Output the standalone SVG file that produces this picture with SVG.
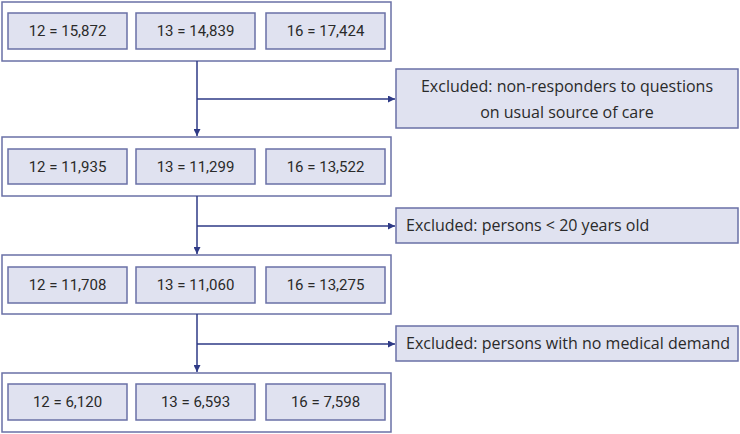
<svg xmlns="http://www.w3.org/2000/svg" width="740" height="434" viewBox="0 0 740 434">
<defs>
<style>
.outer{fill:#ffffff;stroke:#6a70a6;stroke-width:1.5}
.inner{fill:#e0e2f0;stroke:#6a70a6;stroke-width:1.5}
.t{font-family:Roboto,"Noto Sans",sans-serif;font-size:15px;fill:#2a2a2a}
.e{font-family:"Open Sans","Noto Sans",sans-serif;font-size:16px;fill:#2a2a2a}
.n{text-anchor:middle}
.c{fill:none;stroke:#2e3a86;stroke-width:1.5}
</style>
<marker id="ah" viewBox="0 0 10 10" refX="10" refY="5" markerWidth="7" markerHeight="7" markerUnits="userSpaceOnUse" orient="auto">
<path d="M0,0 L10,5 L0,10 z" fill="#2e3a86"/>
</marker>
</defs>
<rect width="740" height="434" fill="#ffffff"/>
<g id="stage1">
<rect class="outer" x="2" y="2" width="389" height="59"/>
<rect class="inner" x="8" y="13" width="119" height="36"/>
<rect class="inner" x="136" y="13" width="119" height="36"/>
<rect class="inner" x="266" y="13" width="119" height="36"/>
<text class="t n" x="67.5" y="36">12 = 15,872</text>
<text class="t n" x="195.5" y="36">13 = 14,839</text>
<text class="t n" x="325.5" y="36">16 = 17,424</text>
</g>
<g id="stage2">
<rect class="outer" x="2" y="137" width="389" height="59"/>
<rect class="inner" x="8" y="149" width="119" height="35"/>
<rect class="inner" x="136" y="149" width="119" height="35"/>
<rect class="inner" x="266" y="149" width="119" height="35"/>
<text class="t n" x="67.5" y="172">12 = 11,935</text>
<text class="t n" x="195.5" y="172">13 = 11,299</text>
<text class="t n" x="325.5" y="172">16 = 13,522</text>
</g>
<g id="stage3">
<rect class="outer" x="2" y="255" width="389" height="59"/>
<rect class="inner" x="8" y="267" width="119" height="36"/>
<rect class="inner" x="136" y="267" width="119" height="36"/>
<rect class="inner" x="266" y="267" width="119" height="36"/>
<text class="t n" x="67.5" y="290">12 = 11,708</text>
<text class="t n" x="195.5" y="290">13 = 11,060</text>
<text class="t n" x="325.5" y="290">16 = 13,275</text>
</g>
<g id="stage4">
<rect class="outer" x="2" y="373" width="389" height="59"/>
<rect class="inner" x="8" y="384" width="119" height="36"/>
<rect class="inner" x="136" y="384" width="119" height="36"/>
<rect class="inner" x="266" y="384" width="119" height="36"/>
<text class="t n" x="67.5" y="407">12 = 6,120</text>
<text class="t n" x="195.5" y="407">13 = 6,593</text>
<text class="t n" x="325.5" y="407">16 = 7,598</text>
</g>
<g id="excl1">
<rect class="inner" x="396" y="69" width="342" height="59"/>
<text class="e n" x="567" y="91.5">Excluded: non-responders to questions</text>
<text class="e n" x="567" y="117.5">on usual source of care</text>
</g>
<g id="excl2">
<rect class="inner" x="396" y="208" width="342" height="35"/>
<text class="e" x="406" y="231">Excluded: persons &lt; 20 years old</text>
</g>
<g id="excl3">
<rect class="inner" x="396" y="326" width="342" height="35"/>
<text class="e" x="406" y="349">Excluded: persons with no medical demand</text>
</g>
<g id="connectors">
<line class="c" x1="197" y1="61" x2="197" y2="136" marker-end="url(#ah)"/>
<line class="c" x1="197" y1="99" x2="395" y2="99" marker-end="url(#ah)"/>
<line class="c" x1="197" y1="196" x2="197" y2="254" marker-end="url(#ah)"/>
<line class="c" x1="197" y1="226" x2="395" y2="226" marker-end="url(#ah)"/>
<line class="c" x1="197" y1="314" x2="197" y2="372" marker-end="url(#ah)"/>
<line class="c" x1="197" y1="344" x2="395" y2="344" marker-end="url(#ah)"/>
</g>
</svg>
